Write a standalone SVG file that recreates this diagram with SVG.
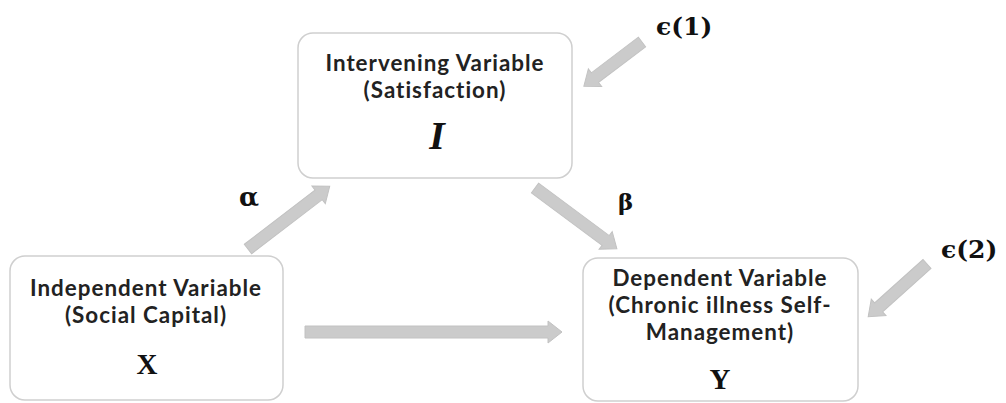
<svg xmlns="http://www.w3.org/2000/svg" width="1006" height="403" viewBox="0 0 1006 403">
<style>
.box{fill:#ffffff;stroke:#cfcfcf;stroke-width:1.5}
.lbl{font-family:Lato,"Noto Sans","Liberation Sans",sans-serif;font-weight:bold;font-size:22.4px;letter-spacing:1px;fill:#222;text-anchor:middle}
.sym{font-family:"Liberation Serif","DejaVu Serif",serif;font-weight:bold;font-size:29px;fill:#111;text-anchor:middle}
.gr{font-family:"DejaVu Serif","Liberation Serif",serif;font-weight:bold;font-size:25px;fill:#111}
.arr{fill:#cbcbcb;stroke:#c2c2c2;stroke-width:1}
</style>
<rect width="1006" height="403" fill="#ffffff"/>
<g id="connectors">
<path class="arr" transform="translate(248,249) rotate(-37.5)" d="M0,-6 H89 V-11 L103,0 L89,11 V6 H0 Z"/>
<path class="arr" transform="translate(535,188) rotate(36.6)" d="M0,-6 H88 V-11 L102,0 L88,11 V6 H0 Z"/>
<path class="arr" transform="translate(305,332)" d="M0,-6 H243 V-11 L257,0 L243,11 V6 H0 Z"/>
<path class="arr" transform="translate(642,42) rotate(142.8)" d="M0,-6 H59 V-11 L73,0 L59,11 V6 H0 Z"/>
<path class="arr" transform="translate(927,264) rotate(138.1)" d="M0,-6 H65 V-11 L79,0 L65,11 V6 H0 Z"/>
<text class="gr" x="239" y="206" style="font-size:26px">α</text>
<text class="gr" x="618" y="210" style="font-size:23px">β</text>
</g>
<g id="intervening">
<rect class="box" x="298" y="33" width="274" height="145" rx="15"/>
<text class="lbl" x="435" y="71">Intervening Variable</text>
<text class="lbl" x="435" y="98">(Satisfaction)</text>
<text class="sym" x="437" y="149" style="font-size:40px;font-style:italic">I</text>
</g>
<g id="independent">
<rect class="box" x="10" y="256" width="273" height="144" rx="15"/>
<text class="lbl" x="146" y="296">Independent Variable</text>
<text class="lbl" x="146" y="323">(Social Capital)</text>
<text class="sym" x="147" y="374">X</text>
</g>
<g id="dependent">
<rect class="box" x="583" y="258" width="275" height="143" rx="15"/>
<text class="lbl" x="720" y="286">Dependent Variable</text>
<text class="lbl" x="720" y="313">(Chronic illness Self-</text>
<text class="lbl" x="720" y="340">Management)</text>
<text class="sym" x="720" y="389">Y</text>
</g>
<g id="error1">
<text class="gr" x="656" y="35">ϵ(1)</text>
</g>
<g id="error2">
<text class="gr" x="941" y="258">ϵ(2)</text>
</g>
</svg>
